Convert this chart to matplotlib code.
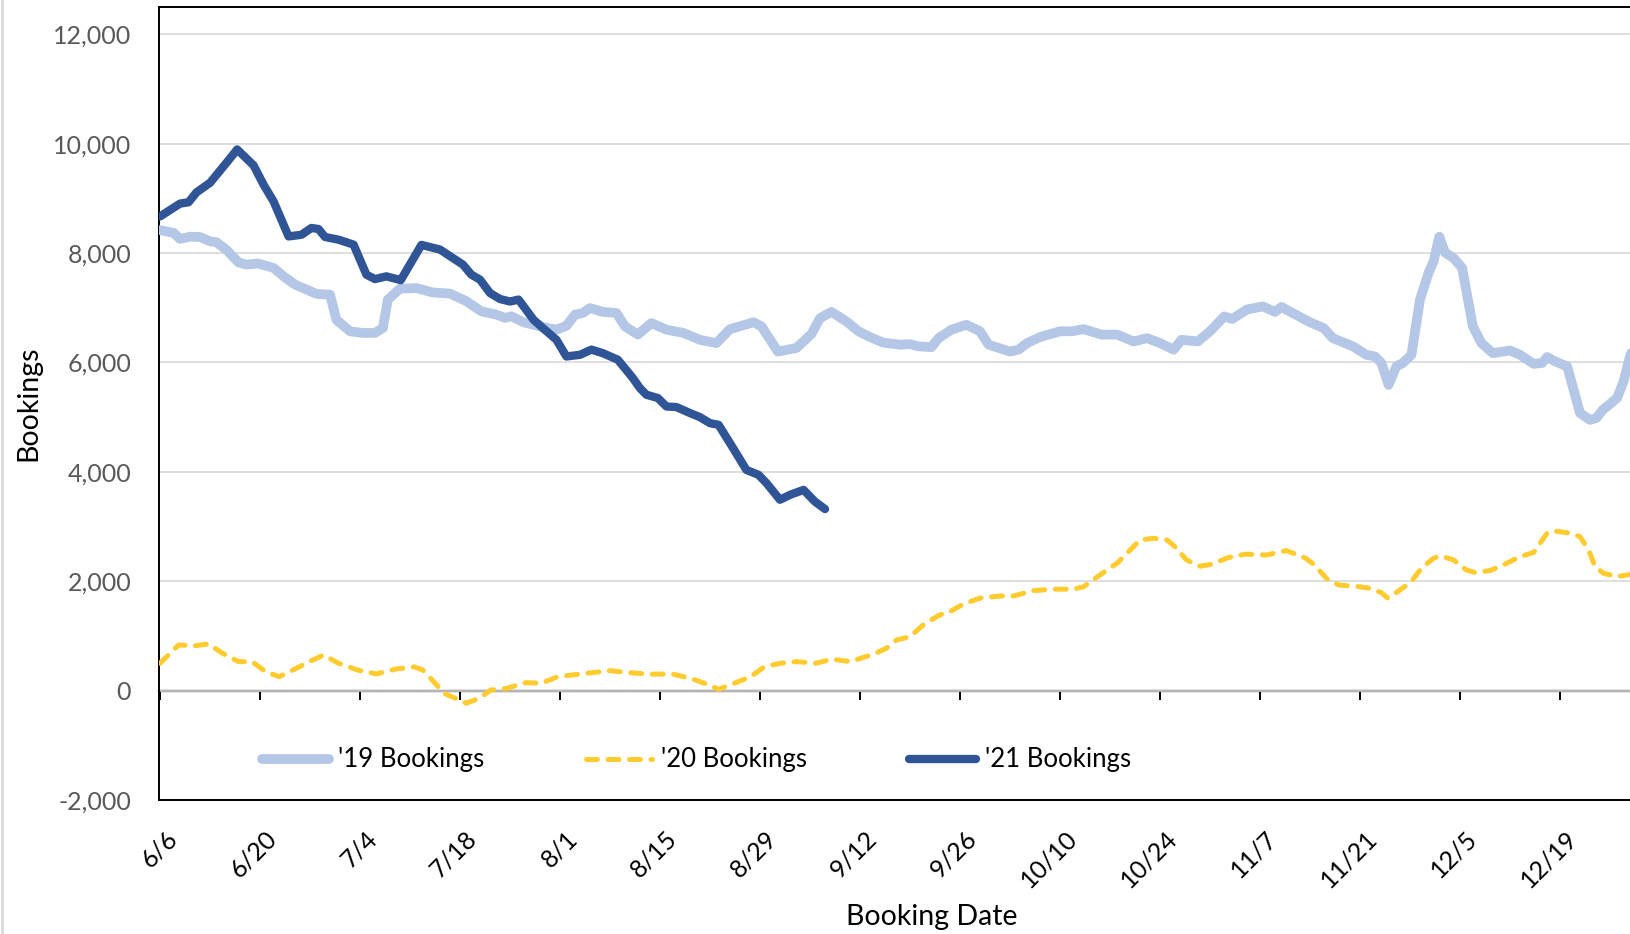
import matplotlib.pyplot as plt
from matplotlib import transforms
from matplotlib.lines import Line2D
from matplotlib.ticker import StrMethodFormatter

plt.rcParams['font.family'] = ['Lato', 'DejaVu Sans']
plt.rcParams['axes.unicode_minus'] = False

# days counted from 6/6
days_19 = [0, 1.9, 2.8, 4.2, 5.6, 7, 7.9, 9.3, 11, 12.1, 13.7, 15.9, 17.3, 18.9, 20.3, 21.9,
           23.8, 24.7, 26.6, 28.4, 30.1, 31.2, 31.9, 33.6, 35.9, 38.2, 40.6, 42.9, 45, 47.1,
           48.3, 49.2, 50.9, 53.2, 55.5, 56.9, 58.1, 59.2, 60.2, 62, 63.9, 65.1, 66.9, 68.8,
           70.9, 73.3, 75.6, 77.9, 79.8, 83.1, 84.2, 86.5, 89.1, 91.2, 92.4, 94, 96.1, 97.8,
           99, 101.2, 103.6, 105, 106.2, 108, 109, 110.8, 112.9, 114.8, 116, 119, 120.2,
           121.4, 123.2, 126, 127.7, 129.3, 131.8, 134, 136.3, 138.2, 140, 141.9, 143, 145.3,
           147, 149, 150.1, 152.2, 154.4, 156.1, 157, 161, 162.9, 164.2, 167, 168.9, 170.1,
           171, 172, 173.1, 174, 175.2, 176.4, 177.6, 178.3, 179.1, 179.9, 181.1, 182.3,
           183.8, 185, 186.6, 189, 190.4, 192.3, 193.5, 194.2, 195.3, 197, 198.8, 200.2,
           201.1, 202, 204, 204.9, 205.8, 206.5]
bookings_19 = [8420, 8370, 8260, 8300, 8295, 8215, 8200, 8060, 7830, 7790, 7810, 7730, 7575,
               7425, 7345, 7255, 7240, 6780, 6570, 6540, 6540, 6630, 7150, 7350, 7360, 7280,
               7260, 7120, 6935, 6875, 6815, 6845, 6735, 6660, 6600, 6670, 6875, 6905, 6995,
               6925, 6905, 6660, 6510, 6720, 6600, 6540, 6415, 6355, 6610, 6735, 6660, 6200,
               6265, 6520, 6810, 6925, 6750, 6570, 6490, 6365, 6325, 6335, 6295, 6280, 6445,
               6600, 6690, 6570, 6325, 6200, 6235, 6355, 6465, 6570, 6570, 6610, 6510, 6510,
               6385, 6445, 6355, 6235, 6415, 6385, 6570, 6843, 6795, 6970, 7025, 6925, 7015,
               6735, 6630, 6445, 6295, 6140, 6110, 5990, 5590, 5930, 5990, 6140, 7150, 7640,
               7850, 8300, 8010, 7910, 7730, 6660, 6355, 6170, 6220, 6140, 5975, 5990, 6100,
               6020, 5930, 5075, 4950, 4985, 5135, 5350, 5655, 6110, 6400]

days_20 = [0, 2.6, 4.9, 6.8, 8.7, 11, 12.9, 14.8, 16.7, 18.6, 20.9, 22.9, 25, 27.7, 30.3, 33,
           35.6, 36.8, 38.3, 39.8, 42.9, 44.7, 46.3, 48.5, 51.2, 53.4, 55.7, 59.6, 63, 65.6,
           68.6, 71.7, 74.3, 76.2, 78.2, 80.4, 82.7, 84.6, 86.8, 89.1, 91.8, 94.1, 96.6, 98.3,
           100, 101.7, 103.1, 105, 107.1, 109.2, 110.6, 112.5, 114.8, 117.6, 119.5, 122.3,
           125.1, 127.9, 129.3, 131.6, 134, 135.6, 137.2, 139.1, 141, 142.3, 143.7, 145.6,
           147.2, 149.5, 151.9, 154.9, 157.7, 160.4, 161.6, 163.5, 165.1, 167.9, 169.4, 171,
           171.9, 173.6, 175.2, 176.6, 178.3, 179.2, 181.1, 182.9, 184.1, 186.2, 188.1, 190.4,
           192.3, 194.2, 195.1, 197.4, 198.8, 200, 200.9, 202.1, 204, 205.4, 206.5]
bookings_20 = [500, 835, 820, 855, 685, 530, 530, 345, 255, 375, 530, 650, 500, 375, 305, 395,
               435, 375, 165, -50, -230, -140, 10, 40, 145, 135, 255, 315, 365, 330, 300, 305,
               225, 135, 25, 135, 255, 435, 500, 530, 500, 575, 530, 600, 670, 775, 925, 985,
               1230, 1385, 1445, 1585, 1690, 1730, 1730, 1830, 1855, 1855, 1900, 2115, 2330,
               2540, 2755, 2785, 2755, 2605, 2390, 2275, 2310, 2430, 2495, 2480, 2560, 2420,
               2300, 2025, 1930, 1900, 1870, 1790, 1690, 1840, 1995, 2240, 2420, 2465, 2390,
               2205, 2160, 2195, 2300, 2450, 2525, 2880, 2920, 2880, 2815, 2575, 2265, 2145,
               2085, 2115, 2150]

days_21 = [0, 2.8, 4, 5.1, 7, 9.3, 10.8, 13.1, 14.5, 15.9, 18, 19.8, 21.2, 22.2, 23.1, 25,
           27.1, 28.9, 30.1, 31.7, 33.7, 36.6, 39.2, 42.4, 43.6, 44.8, 46.2, 47.6, 49, 50.2,
           52.3, 53.6, 55.5, 56.9, 58.8, 60.4, 62, 64.1, 66.2, 67.2, 68.1, 69.7, 70.9, 72.3,
           74.2, 75.6, 77, 78.2, 79.8, 82.1, 83.8, 84.9, 86.8, 88.2, 90.1, 91.7, 93.1]
bookings_21 = [8670, 8905, 8930, 9110, 9285, 9650, 9895, 9605, 9250, 8945, 8305, 8335, 8460,
               8440, 8295, 8245, 8155, 7605, 7525, 7575, 7505, 8150, 8065, 7790, 7605, 7515,
               7270, 7160, 7115, 7150, 6780, 6630, 6415, 6110, 6140, 6235, 6170, 6050, 5715,
               5530, 5410, 5350, 5195, 5185, 5075, 5000, 4890, 4860, 4525, 4035, 3945, 3795,
               3490, 3580, 3670, 3455, 3320]

tick_days = list(range(0, 197, 14))
tick_labels = ['6/6', '6/20', '7/4', '7/18', '8/1', '8/15', '8/29', '9/12', '9/26',
               '10/10', '10/24', '11/7', '11/21', '12/5', '12/19']

fig = plt.figure(figsize=(16.3, 9.34), dpi=100)
ax = fig.add_axes([159 / 1630, 134 / 934, 1471 / 1630, 793 / 934])

ax.plot(days_19, bookings_19, color='#B4C7E7', lw=7.0, solid_capstyle='round',
        solid_joinstyle='round', label="'19 Bookings", zorder=3)
ax.plot(days_20, bookings_20, color='#FFCB2E', lw=3.6, dashes=(2.2, 2.1),
        dash_capstyle='round', dash_joinstyle='round', label="'20 Bookings", zorder=4)
ax.plot(days_21, bookings_21, color='#2F5597', lw=6.0, solid_capstyle='round',
        solid_joinstyle='round', label="'21 Bookings", zorder=5)

ax.set_xlim(-0.14, 205.8)
ax.set_ylim(-2000, 12500)
ax.set_yticks(range(-2000, 12001, 2000))
ax.yaxis.set_major_formatter(StrMethodFormatter('{x:,.0f}'))
ax.grid(axis='y', color='#D9D9D9', lw=1.2)
ax.set_axisbelow(True)

ax.spines['right'].set_visible(False)
for side in ['left', 'top', 'bottom']:
    ax.spines[side].set_linewidth(1.4)
    ax.spines[side].set_color('black')

ax.tick_params(axis='y', length=0, pad=20, labelsize=18, labelcolor='#595959')
ax.tick_params(axis='x', length=0, pad=19, labelsize=18)
ax.set_xticks(tick_days)
ax.set_xticklabels(tick_labels)
shift = transforms.ScaledTranslation(5 / 100, 0, fig.dpi_scale_trans)
for lbl in ax.get_xticklabels():
    lbl.set_rotation(45)
    lbl.set_ha('right')
    lbl.set_va('top')
    lbl.set_rotation_mode('anchor')
    lbl.set_transform(lbl.get_transform() + shift)

# horizontal axis line with tick marks at zero
sec = ax.secondary_xaxis(2000 / 14500)
sec.set_xticks(tick_days)
sec.tick_params(direction='out', length=6.5, width=1.4, color='black', labelbottom=False)
sec.spines['bottom'].set_linewidth(1.6)

ax.set_xlabel('Booking Date', fontsize=20.5)
ax.xaxis.set_label_coords(0.5255, -0.1475)
ax.xaxis.label.set_va('center')
ax.set_ylabel('Bookings', fontsize=20.5)
ax.yaxis.set_label_coords(-0.089, 0.5006)
ax.yaxis.label.set_va('center')

ax.legend(loc='center left', bbox_to_anchor=(262 / 1630, 174 / 934),
          bbox_transform=fig.transFigure, ncol=3, frameon=False, fontsize=18.5,
          handlelength=2.6, handletextpad=0.35, columnspacing=3.95,
          borderpad=0, borderaxespad=0)

fig.add_artist(Line2D([0.001, 0.001], [0, 1], transform=fig.transFigure,
                      color='#D9D9D9', lw=2))

fig.savefig('out.png', dpi=100)
